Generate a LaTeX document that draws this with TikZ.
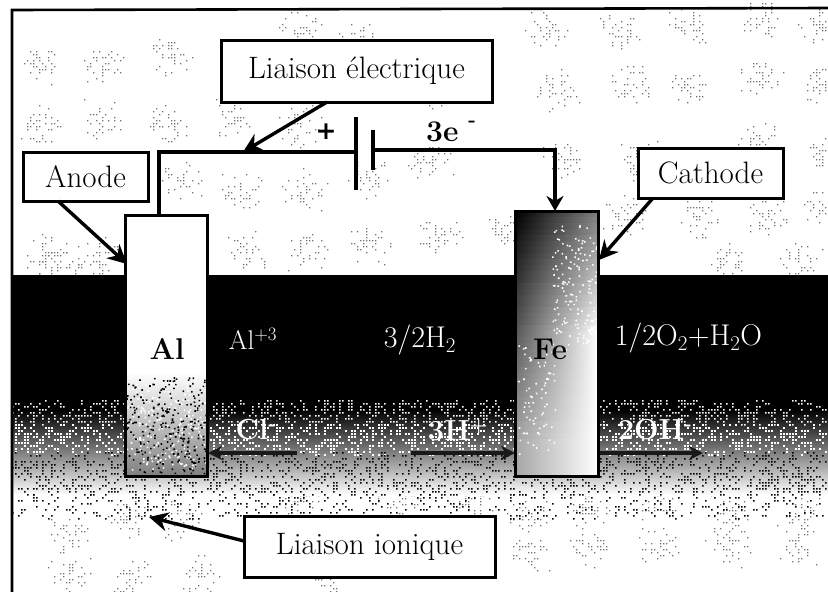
\documentclass[tikz,border=0pt]{standalone}
\usepackage{fontspec}
\newfontfamily\signfont{DejaVu Sans}
\usetikzlibrary{arrows.meta}
\definecolor{speck}{gray}{0.45}
\tikzset{
  labelbox/.style={draw=black,line width=3pt,fill=white,inner sep=0pt,font=\fontsize{31}{33}\selectfont},
  callout/.style={line width=3.4pt,-{Stealth[length=19pt,width=19pt]}},
  wire/.style={line width=3.2pt},
  plate/.style={line width=4.5pt},
  ionarrow/.style={line width=3.5pt,draw=black!90,-{Stealth[length=14pt,width=14pt]}},
  ion/.style={text=white,inner sep=0pt,font=\fontsize{30}{32}\selectfont},
  ionsmall/.style={text=white,inner sep=0pt,font=\fontsize{27}{30}\selectfont},
  ionbold/.style={text=white,inner sep=0pt,font=\fontsize{29}{32}\selectfont\bfseries},
  sign/.style={inner sep=0pt,font=\fontsize{30}{32}\selectfont\bfseries}
}
\begin{document}
\begin{tikzpicture}[x=1pt,y=-1pt]
\useasboundingbox (0,0) rectangle (828,592);
\fill[white] (0,0) rectangle (828,592);
\pgfmathsetseed{4217}
% speckled wallpaper
\foreach \cx/\cy in {40/65,100/65,170/55,300/30,360/40,545/30,620/30,690/25,760/20,820/25,
                     40/125,100/120,170/122,230/120,300/125,430/90,560/90,630/85,690/85,760/80,820/85,
                     180/180,240/190,305/190,370/180,430/160,565/160,640/160,760/140,825/150,
                     45/255,100/260,245/250,310/250,370/245,440/235,505/230,625/215,700/220,770/215,825/205,
                     60/265,180/265,720/262,800/262,
                     70/535,130/520,180/520,330/575,70/575,130/580,200/575,
                     530/510,590/510,660/505,730/510,800/510,
                     530/550,590/550,660/545,730/545,800/545,
                     300/495,400/500,470/500}{
  \fill[speck] \foreach \n in {1,...,38}{
     ({3*round((\cx+(rnd+rnd-1)*24)/3)},{3*round((\cy+(rnd+rnd-1)*22)/3)}) rectangle ++(1.4,1.4)};
}
% electrolyte band
\fill[black] (12,275) rectangle (828,410);
\shade[top color=black,bottom color=white,middle color=black!50] (12,409.5) rectangle (828,495);
\fill[white] \foreach \n in {1,...,1000}{
     ({12+3*round(rnd*271)},{400+3*round(rnd*8)}) rectangle ++(1.6,1.6)};
\fill[white] \foreach \n in {1,...,1300}{
     ({12+3*round(rnd*271)},{424+3*round(rnd*10)}) rectangle ++(1.8,1.8)};
\fill[black] \foreach \n in {1,...,1500}{
     ({12+3*round(rnd*271)},{452+3*round(rnd*14)}) rectangle ++(1.7,1.7)};
\fill[black] \foreach \n in {1,...,450}{
     ({12+3*round(rnd*271)},{494+3*round(rnd*8)}) rectangle ++(1.5,1.5)};
% frame
\draw[line width=2.6pt] (12,592) -- (12,10) -- (828,8);
% Al electrode
\fill[white] (125,215) rectangle (207,372);
\shade[top color=white,bottom color=black!50] (125,372) rectangle (207,476);
\fill[white] \foreach \n in {1,...,220}{({125+rnd*81},{380+rnd*90}) rectangle ++(1.6,1.6)};
\fill[black] \foreach \n in {1,...,260}{({125+rnd*81},{376+rnd*97}) rectangle ++(1.6,1.6)};
\draw[line width=3pt] (125,476) rectangle (207,215);
\coordinate (alTop) at (159,215);
\node[inner sep=0pt,font=\fontsize{30}{32}\selectfont\bfseries] (al) at (167,349) {Al};
% Fe electrode: horizontal gradient strips that lighten downwards
\foreach \sy in {211,217,...,475}{
  \pgfmathtruncatemacro{\tt}{(\sy-211)/2.65}
  \pgfmathtruncatemacro{\lc}{max(35,100-\tt*0.75)}
  \pgfmathtruncatemacro{\mc}{max(0,min(100,100-(\tt-25)*2.4))}
  \pgfmathtruncatemacro{\rc}{max(0,50-\tt*1.1)}
  \shade[left color=black!\lc,middle color=black!\mc,right color=black!\rc]
    (515,\sy) rectangle (598,{min(476,\sy+6.5)});
}
\fill[white] \foreach \n in {1,...,160}{({552+rnd*45},{225+rnd*125}) rectangle ++(1.6,1.6)};
\fill[white] \foreach \n in {1,...,70}{({518+rnd*37},{345+rnd*110}) rectangle ++(1.6,1.6)};
\draw[line width=3pt] (515,476) -- (598,476) -- (598,211) -- (515,211) -- cycle;
\coordinate (feTop) at (555,211);
\node[inner sep=0pt,font=\fontsize{30}{32}\selectfont\bfseries] (fe) at (550,349) {Fe};
% battery and wiring
\coordinate (plusTop) at (356,117);
\coordinate (plusBot) at (356,190);
\coordinate (plusMid) at (356,152);
\coordinate (minusTop) at (373,130);
\coordinate (minusBot) at (373,170);
\coordinate (minusMid) at (373,150);
\draw[plate] (plusTop) -- (plusBot);
\draw[plate] (minusTop) -- (minusBot);
\draw[wire] (alTop) |- (plusMid);
\draw[wire,-{Stealth[length=15pt,width=17pt]}] (minusMid) -| (feTop);
\node[inner sep=0pt,font=\signfont\fontsize{25}{27}\selectfont\bfseries] (plus) at (326,132) {+};
\node[sign,anchor=west] (three) at (426,132) {3e};
\node[sign,font=\fontsize{20}{22}\selectfont\bfseries] (minus) at (472,124) {-};
% boxes
\node[labelbox,minimum width=271pt,minimum height=62pt] (elec) at (356.5,71) {Liaison électrique};
\node[labelbox,minimum width=125pt,minimum height=49pt] (anode) at (85.5,176.5) {Anode};
\node[labelbox,minimum width=145pt,minimum height=50pt] (cath) at (710.5,173) {Cathode};
\node[labelbox,minimum width=251pt,minimum height=61pt] (ionq) at (369.5,547) {Liaison ionique};
% callouts
\coordinate (elecT) at (243,152);
\coordinate (elecS) at (327,102);
\coordinate (anodeT) at (127,264);
\coordinate (anodeS) at (58,201);
\coordinate (cathT) at (599,260);
\coordinate (cathS) at (653,198);
\coordinate (ionT) at (149,517);
\coordinate (ionS) at (244,541);
\draw[callout] (elecS) -- (elecT);
\draw[callout] (anodeS) -- (anodeT);
\draw[callout] (cathS) -- (cathT);
\draw[callout] (ionS) -- (ionT);
% solution labels
\node[ionsmall] (alion) at (253,339) {Al\textsuperscript{+3}};
\node[ion] (hgas) at (420,340) {3/2H\textsubscript{2}};
\node[ion] (water) at (688.5,338) {1/2O\textsubscript{2}+H\textsubscript{2}O};
\node[ionbold] (cl) at (256,430) {Cl\textsuperscript{-}};
\node[ionbold] (hion) at (458,430) {3H\textsuperscript{+}};
\node[ionbold] (oh) at (655,430) {2OH\textsuperscript{-}};
% ion arrows
\coordinate (clS) at (297,453);
\coordinate (clT) at (208,453);
\coordinate (hS) at (411,453);
\coordinate (hT) at (515,453);
\coordinate (ohS) at (600,453);
\coordinate (ohT) at (703,453);
\draw[ionarrow] (clS) -- (clT);
\draw[ionarrow] (hS) -- (hT);
\draw[ionarrow] (ohS) -- (ohT);
\end{tikzpicture}
\end{document}
